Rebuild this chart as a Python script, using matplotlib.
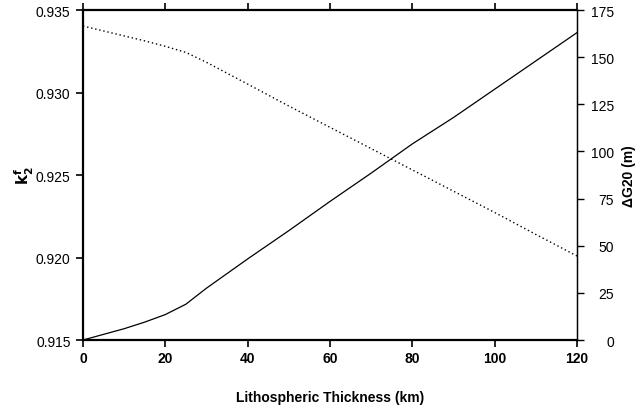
import numpy as np
import matplotlib
matplotlib.use('Agg')
import matplotlib.pyplot as plt

plt.rcParams['font.family'] = ['Liberation Sans', 'DejaVu Sans']

# Lithospheric thickness (km)
thickness = [0, 10, 15, 20, 25, 30, 40, 50, 60, 70, 80, 90, 100, 110, 120]

# Fluid Love number k2^f (dotted, left axis)
k2f = [0.93403, 0.93343, 0.93313, 0.93280, 0.93243, 0.93183, 0.93051, 0.92918,
       0.92789, 0.92660, 0.92531, 0.92402, 0.92273, 0.92140, 0.92009]

# Delta G20 in metres (solid, right axis)
dg20 = [0, 6, 9.5, 13.5, 19, 27.5, 43, 58, 73.5, 88.5, 104, 118, 133, 148, 163]

xticks = [0, 20, 40, 60, 80, 100, 120]
yticks_left = [0.915, 0.920, 0.925, 0.930, 0.935]
yticks_right = [0, 25, 50, 75, 100, 125, 150, 175]

fig = plt.figure(figsize=(6.37, 4.14), dpi=100)
ax = fig.add_axes([0.1303, 0.1763, 0.7755, 0.7971])
ax2 = ax.twinx()

ax.plot(thickness, k2f, color='black', lw=1.0, linestyle=(0, (1, 2)))
ax2.plot(thickness, dg20, color='black', lw=0.9)

ax.set_xlim(0, 120)
ax.set_ylim(0.915, 0.935)
ax2.set_ylim(0, 175)

ax.set_xticks(xticks)
ax.set_xticklabels([str(v) for v in xticks], fontweight='bold')
ax.set_yticks(yticks_left)
ax.set_yticklabels([f'{v:.3f}' for v in yticks_left])
ax2.set_yticks(yticks_right)
ax2.set_yticklabels([str(v) for v in yticks_right])

ax.tick_params(axis='x', direction='out', length=5, width=1.2, labelsize=10,
               top=True, pad=3)
ax.tick_params(axis='y', direction='out', length=5, width=1.2, labelsize=10, pad=4)
ax2.tick_params(axis='y', direction='out', length=5, width=1.0, labelsize=10,
                pad=21.5)
# right-hand labels are right-aligned in the original
for lbl in ax2.get_yticklabels():
    lbl.set_horizontalalignment('right')

for s in ['left', 'bottom', 'top']:
    ax.spines[s].set_linewidth(1.6)
ax2.spines['right'].set_linewidth(1.0)
for s in ['left', 'bottom', 'top']:
    ax2.spines[s].set_visible(False)

ax.set_xlabel('Lithospheric Thickness (km)', fontsize=10, fontweight='bold',
              labelpad=18)
ax.set_ylabel(r'$\mathbf{k}_\mathbf{2}^\mathbf{f}$', fontsize=11, labelpad=0)
ax2.set_ylabel('ΔG20 (m)', fontsize=10, fontweight='bold')
ax2.yaxis.set_label_coords(1.092, 0.5)

fig.savefig('out.png', dpi=100)
